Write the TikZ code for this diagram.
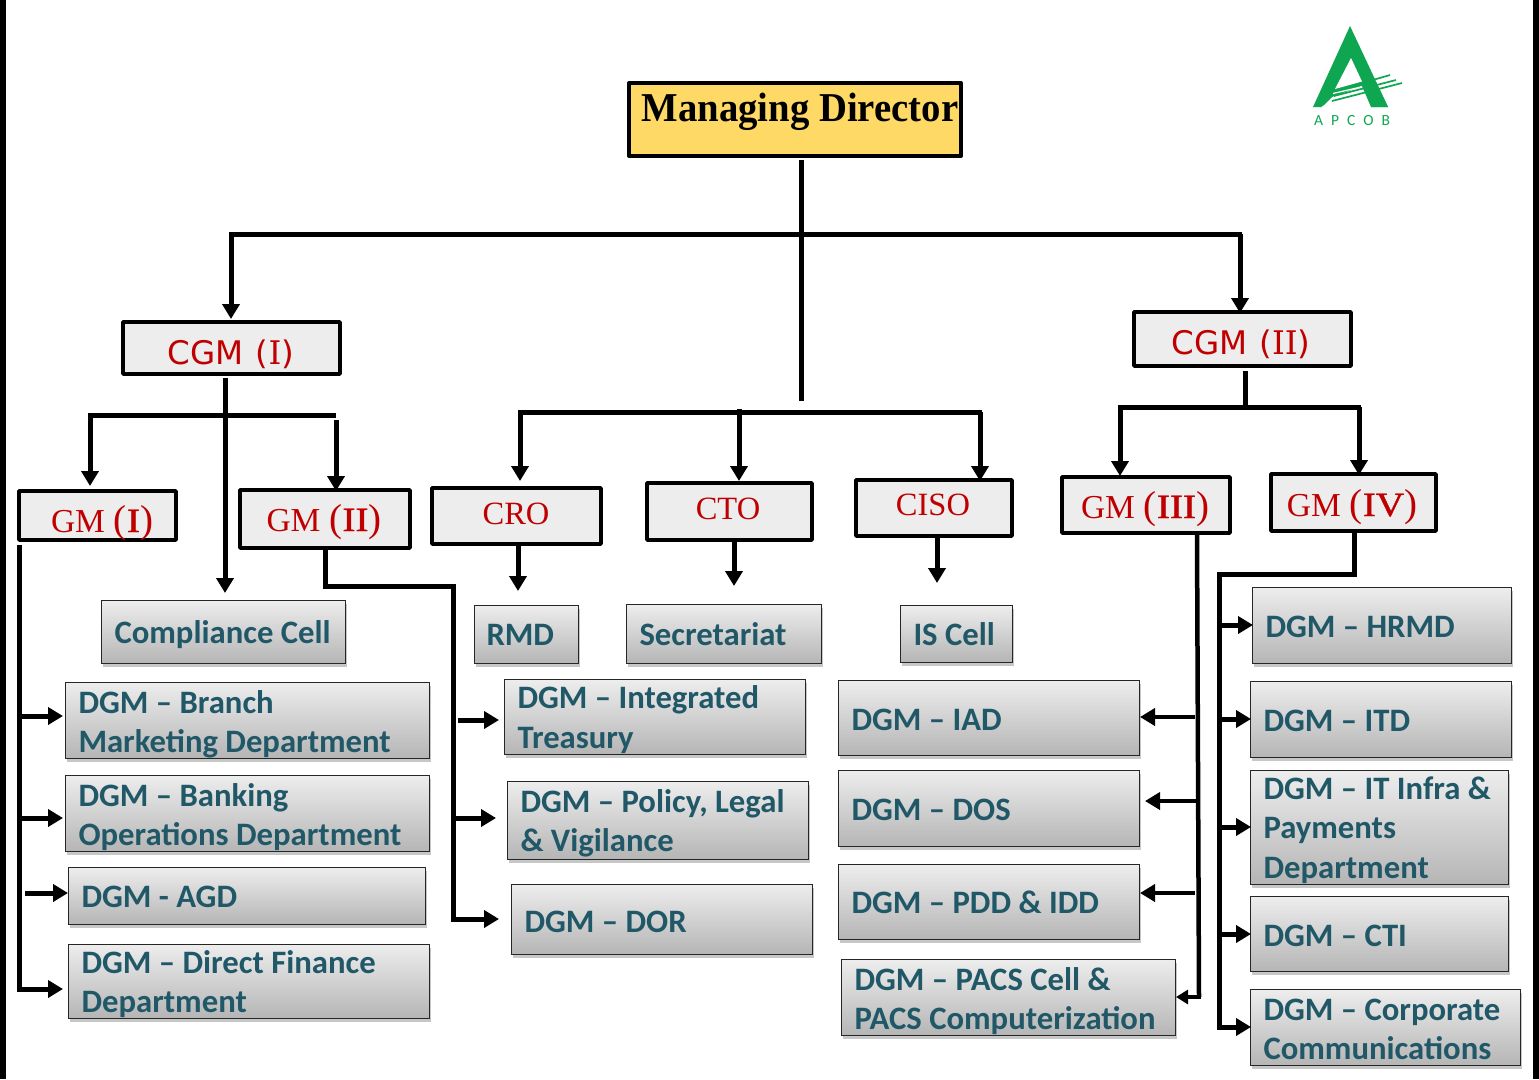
\documentclass[tikz,border=0pt]{standalone}
\usepackage{fontspec}
\setmainfont{Liberation Serif}
\newfontfamily\carl{Carlito}
\newfontfamily\djsans{DejaVu Sans}
\newfontfamily\djserif{DejaVu Serif}
\newfontfamily\mdfont[FakeStretch=0.945]{Liberation Serif}
\newfontfamily\romfont[FakeStretch=1.15,FakeBold=1.2]{Liberation Serif}
\usetikzlibrary{arrows.meta,shadows,calc}
\definecolor{tealtxt}{HTML}{215868}
\definecolor{redtxt}{HTML}{C00000}
\definecolor{apgreen}{HTML}{0FA651}
\definecolor{mdyellow}{HTML}{FFD966}
\tikzset{
  base/.style={rectangle,inner sep=0pt,outer sep=0pt},
  greybox/.style={base,draw=black!85,line width=1pt,top color=black!7,bottom color=black!29,
    drop shadow={shadow xshift=1pt,shadow yshift=-3pt,fill=black,opacity=.22}},
  redbox/.style={base,draw=black,line width=3.6pt,line join=round,fill=black!7,text=redtxt},
  mdbox/.style={base,draw=black,line width=4pt,line join=round,fill=mdyellow},
  conn/.style={draw=black,line width=5pt,line join=miter},
  arr/.style={conn,-{Triangle[width=17pt,length=15pt]}},
  thinarr/.style={draw=black,line width=4pt,-{Triangle[width=17pt,length=15pt]}}
}
% name, x1,y1,x2,y2, text x, first baseline, text
\newcommand\gbox[8]{%
  \pgfmathsetlengthmacro\bw{#4-#2+1}\pgfmathsetlengthmacro\bh{#5-#3+1}%
  \pgfmathsetlengthmacro\cx{(#2+#4)/2}\pgfmathsetlengthmacro\cy{(#3+#5)/2}%
  \pgfmathsetlengthmacro\dx{#6-(#2+#4)/2-0.5}\pgfmathsetlengthmacro\dy{(#3+#5)/2-#7}%
  \node[greybox,minimum width=\bw,minimum height=\bh,text=tealtxt,font=\carl\bfseries\fontsize{32.7}{39.5}\selectfont] (#1) at (\cx,-\cy)
   {\smash{\makebox[0pt][l]{\hspace*{\dx}\raisebox{\dy}{\parbox[t]{520pt}{\raggedright #8}}}}};}
% name, x1,y1,x2,y2, text centre x, baseline, style, text
\newcommand\rbox[9]{%
  \pgfmathsetlengthmacro\bw{#4-#2}\pgfmathsetlengthmacro\bh{#5-#3}%
  \pgfmathsetlengthmacro\cx{(#2+#4)/2}\pgfmathsetlengthmacro\cy{(#3+#5)/2}%
  \pgfmathsetlengthmacro\dx{2*(#6-(#2+#4)/2)}\pgfmathsetlengthmacro\dy{(#3+#5)/2-#7}%
  \def\rtext{#9}%
  \node[#8,minimum width=\bw,minimum height=\bh] (#1) at (\cx,-\cy)
   {\smash{\makebox[0pt][c]{\hspace*{\dx}\raisebox{\dy}{\rtext}}}};}
\newcommand\cgmt[1]{{\djsans\fontsize{32.5}{36}\selectfont CGM\hspace{12pt}(\djserif #1\djsans)}}
\newcommand\gmt[1]{{\fontsize{33.5}{36}\selectfont GM\hspace{9pt}\fontsize{39}{40}\selectfont (\romfont\fontsize{34}{36}\selectfont #1\rmfamily\fontsize{39}{40}\selectfont)}}
\newcommand\gmf{\fontsize{32.5}{36}\selectfont}
\begin{document}
\begin{tikzpicture}[x=1pt,y=-1pt]
\useasboundingbox (0,0) rectangle (1539,1079);
\fill[white] (0,0) rectangle (1539,1079);
\fill[black] (0,0) rectangle (6,1079);
\fill[black] (1533,0) rectangle (1539,1079);

% logo
\fill[apgreen] (1350,26) -- (1388,107) -- (1371,107) -- (1362,86) -- (1332,97) -- (1322,107) -- (1313,107) -- cycle;
\fill[white] (1351,58) -- (1362,81.5) -- (1335,89) -- cycle;
\draw[white,line width=1.2pt] (1333,93.5) -- (1363,86.5) (1332,98.5) -- (1365,91);
\fill[white] (1321,107.2) -- (1332,100.5) -- (1368,92) -- (1372,107.2) -- cycle;
\draw[apgreen,line width=1.7pt] (1335,91) -- (1390,75) (1334,96) -- (1396,80) (1332,101) -- (1402,83);
\fill[apgreen] (1388,107) -- (1371,107) -- (1362,86) -- (1376,82) -- cycle;
\node[base,text=apgreen,font=\carl\fontsize{15.5}{15}\selectfont] (logotext) at (1352,121) {A\hspace{8pt}P\hspace{8pt}C\hspace{8pt}O\hspace{8pt}B};

% boxes
\rbox{md}{629}{83}{961}{156}{800}{121}{mdbox}{\mdfont\bfseries\fontsize{41}{44}\selectfont Managing Director}
\rbox{cgmi}{123}{322}{340}{374}{231}{364}{redbox}{\cgmt{I}}
\rbox{cgmii}{1134}{312}{1351}{366}{1241}{354}{redbox}{\cgmt{II}}
\rbox{gmi}{19}{491}{176}{540}{102}{532}{redbox}{\gmt{I}}
\rbox{gmii}{240}{490}{410}{548}{324}{531}{redbox}{\gmt{II}}
\rbox{cro}{432}{488}{601}{544}{516}{524}{redbox}{\gmf CRO}
\rbox{cto}{647}{483}{812}{540}{728}{519}{redbox}{\gmf CTO}
\rbox{ciso}{856}{480}{1012}{536}{933}{515}{redbox}{\gmf CISO}
\rbox{gmiii}{1062}{477}{1230}{533}{1145}{518}{redbox}{\gmt{III}}
\rbox{gmiv}{1271}{474}{1436}{531}{1352}{516}{redbox}{\gmt{IV}}

\gbox{comp}{102}{601}{345}{663}{115}{643}{Compliance Cell}
\gbox{rmd}{475}{606}{578}{663}{487}{645}{RMD}
\gbox{sec}{627}{605}{821}{663}{640}{645}{Secretariat}
\gbox{iscell}{901}{606}{1012}{662}{914}{645}{IS Cell}
\gbox{branch}{66}{683}{429}{758}{79}{713}{DGM – Branch\\Marketing Department}
\gbox{banking}{66}{776}{429}{851}{79}{806}{DGM – Banking\\Operations Department}
\gbox{agd}{69}{868}{425}{924}{82}{907}{DGM - AGD}
\gbox{direct}{69}{945}{429}{1018}{82}{973}{DGM – Direct Finance\\Department}
\gbox{integ}{505}{680}{805}{754}{518}{708.5}{DGM – Integrated\\Treasury}
\gbox{policy}{508}{782}{808}{859}{521}{812}{DGM – Policy, Legal\\\& Vigilance}
\gbox{dor}{512}{885}{812}{954}{525}{932}{DGM – DOR}
\gbox{iad}{839}{681}{1139}{755}{852}{730}{DGM – IAD}
\gbox{dos}{839}{771}{1139}{846}{852}{820}{DGM – DOS}
\gbox{pdd}{839}{865}{1139}{939}{852}{913}{DGM – PDD \& IDD}
\gbox{pacs}{842}{960}{1175}{1035}{855}{990}{DGM – PACS Cell \&\\PACS Computerization}
\gbox{hrmd}{1253}{588}{1511}{663}{1266}{637}{DGM – HRMD}
\gbox{itd}{1251}{682}{1511}{757}{1264}{731}{DGM – ITD}
\gbox{infra}{1251}{771}{1508}{884}{1264}{799}{DGM – IT Infra \&\\Payments\\Department}
\gbox{cti}{1251}{897}{1508}{971}{1264}{946}{DGM – CTI}
\gbox{corp}{1251}{990}{1520}{1065}{1264}{1020}{DGM – Corporate\\Communications}

% junctions
\coordinate (mdend) at (801,401);
\coordinate (tl) at (231,234);
\coordinate (tr) at (1240,234);
\coordinate (cgl) at (88,415);
\coordinate (cgr) at (336,415);
\coordinate (cl) at (520,412);
\coordinate (cm) at (739,412);
\coordinate (cr) at (980,412);
\coordinate (rl) at (1120,407);
\coordinate (rr) at (1359,407);
\coordinate (g2a) at (325,586);
\coordinate (g2b) at (453,586);
\coordinate (g1x) at (19,545);
\coordinate (g4a) at (1354,574);
\coordinate (g4b) at (1219,574);
\coordinate (g3e) at (1199,997);

% connectors
\draw[conn] (801,160) -- (mdend);
\draw[conn] ([xshift=-2pt]tl) -- ([xshift=2pt]tr);
\draw[arr,shorten >=3pt] (tl) -- (tl |- cgmi.north);
\draw[arr,shorten >=-1pt] (tr) -- (tr |- cgmii.north);
\draw[arr] (225,378) -- (225,593);
\draw[conn] (cgl) -- (cgr);
\draw[arr] (90,415) -- (90,486);
\draw[arr] (336,420) -- (336,491);

\draw[conn] (518,412) -- (982,412);
\draw[arr] (cl) -- (520,481);
\draw[arr] (739,409) -- (739,481);
\draw[arr] (cr) -- (980,481);
\draw[arr] (518,546) -- (518,591);
\draw[arr] (734,542) -- (734,586);
\draw[arr] (937,538) -- (937,583);

\draw[conn] (1245,371) -- (1245,410);
\draw[conn] (1118,407) -- (1361,407);
\draw[arr] (rl) -- (1120,476);
\draw[arr] (rr) -- (1359,475);

\draw[arr] (gmii.south -| g2a) -- (g2a) -- (g2b) -- (453,919) -- (499,919);
\draw[arr] (458,720) -- (499,720);
\draw[arr] (453,818) -- (496,818);

\draw[arr] (g1x) -- (19,989) -- (63,989);
\draw[arr] (19,716) -- (63,716);
\draw[arr] (19,818) -- (63,818);
\draw[arr] (25,893) -- (68,893);

\draw[conn,line width=4.5pt] (1197,534) -- (g3e);
\draw[thinarr,-{Triangle[width=14pt,length=12pt]}] (1201,997) -- (1176,997);
\draw[thinarr] (1195,717) -- (1140,717);
\draw[thinarr] (1197,801) -- (1145,801);
\draw[thinarr] (1195,893) -- (1140,893);

\draw[arr] (g4a |- gmiv.south) -- (g4a) -- (g4b) -- (1219,1027) -- (1251,1027);
\draw[arr] (1219,625) -- (1253,625);
\draw[arr] (1219,719) -- (1251,719);
\draw[arr] (1219,827) -- (1251,827);
\draw[arr] (1219,934) -- (1251,934);
\end{tikzpicture}
\end{document}
